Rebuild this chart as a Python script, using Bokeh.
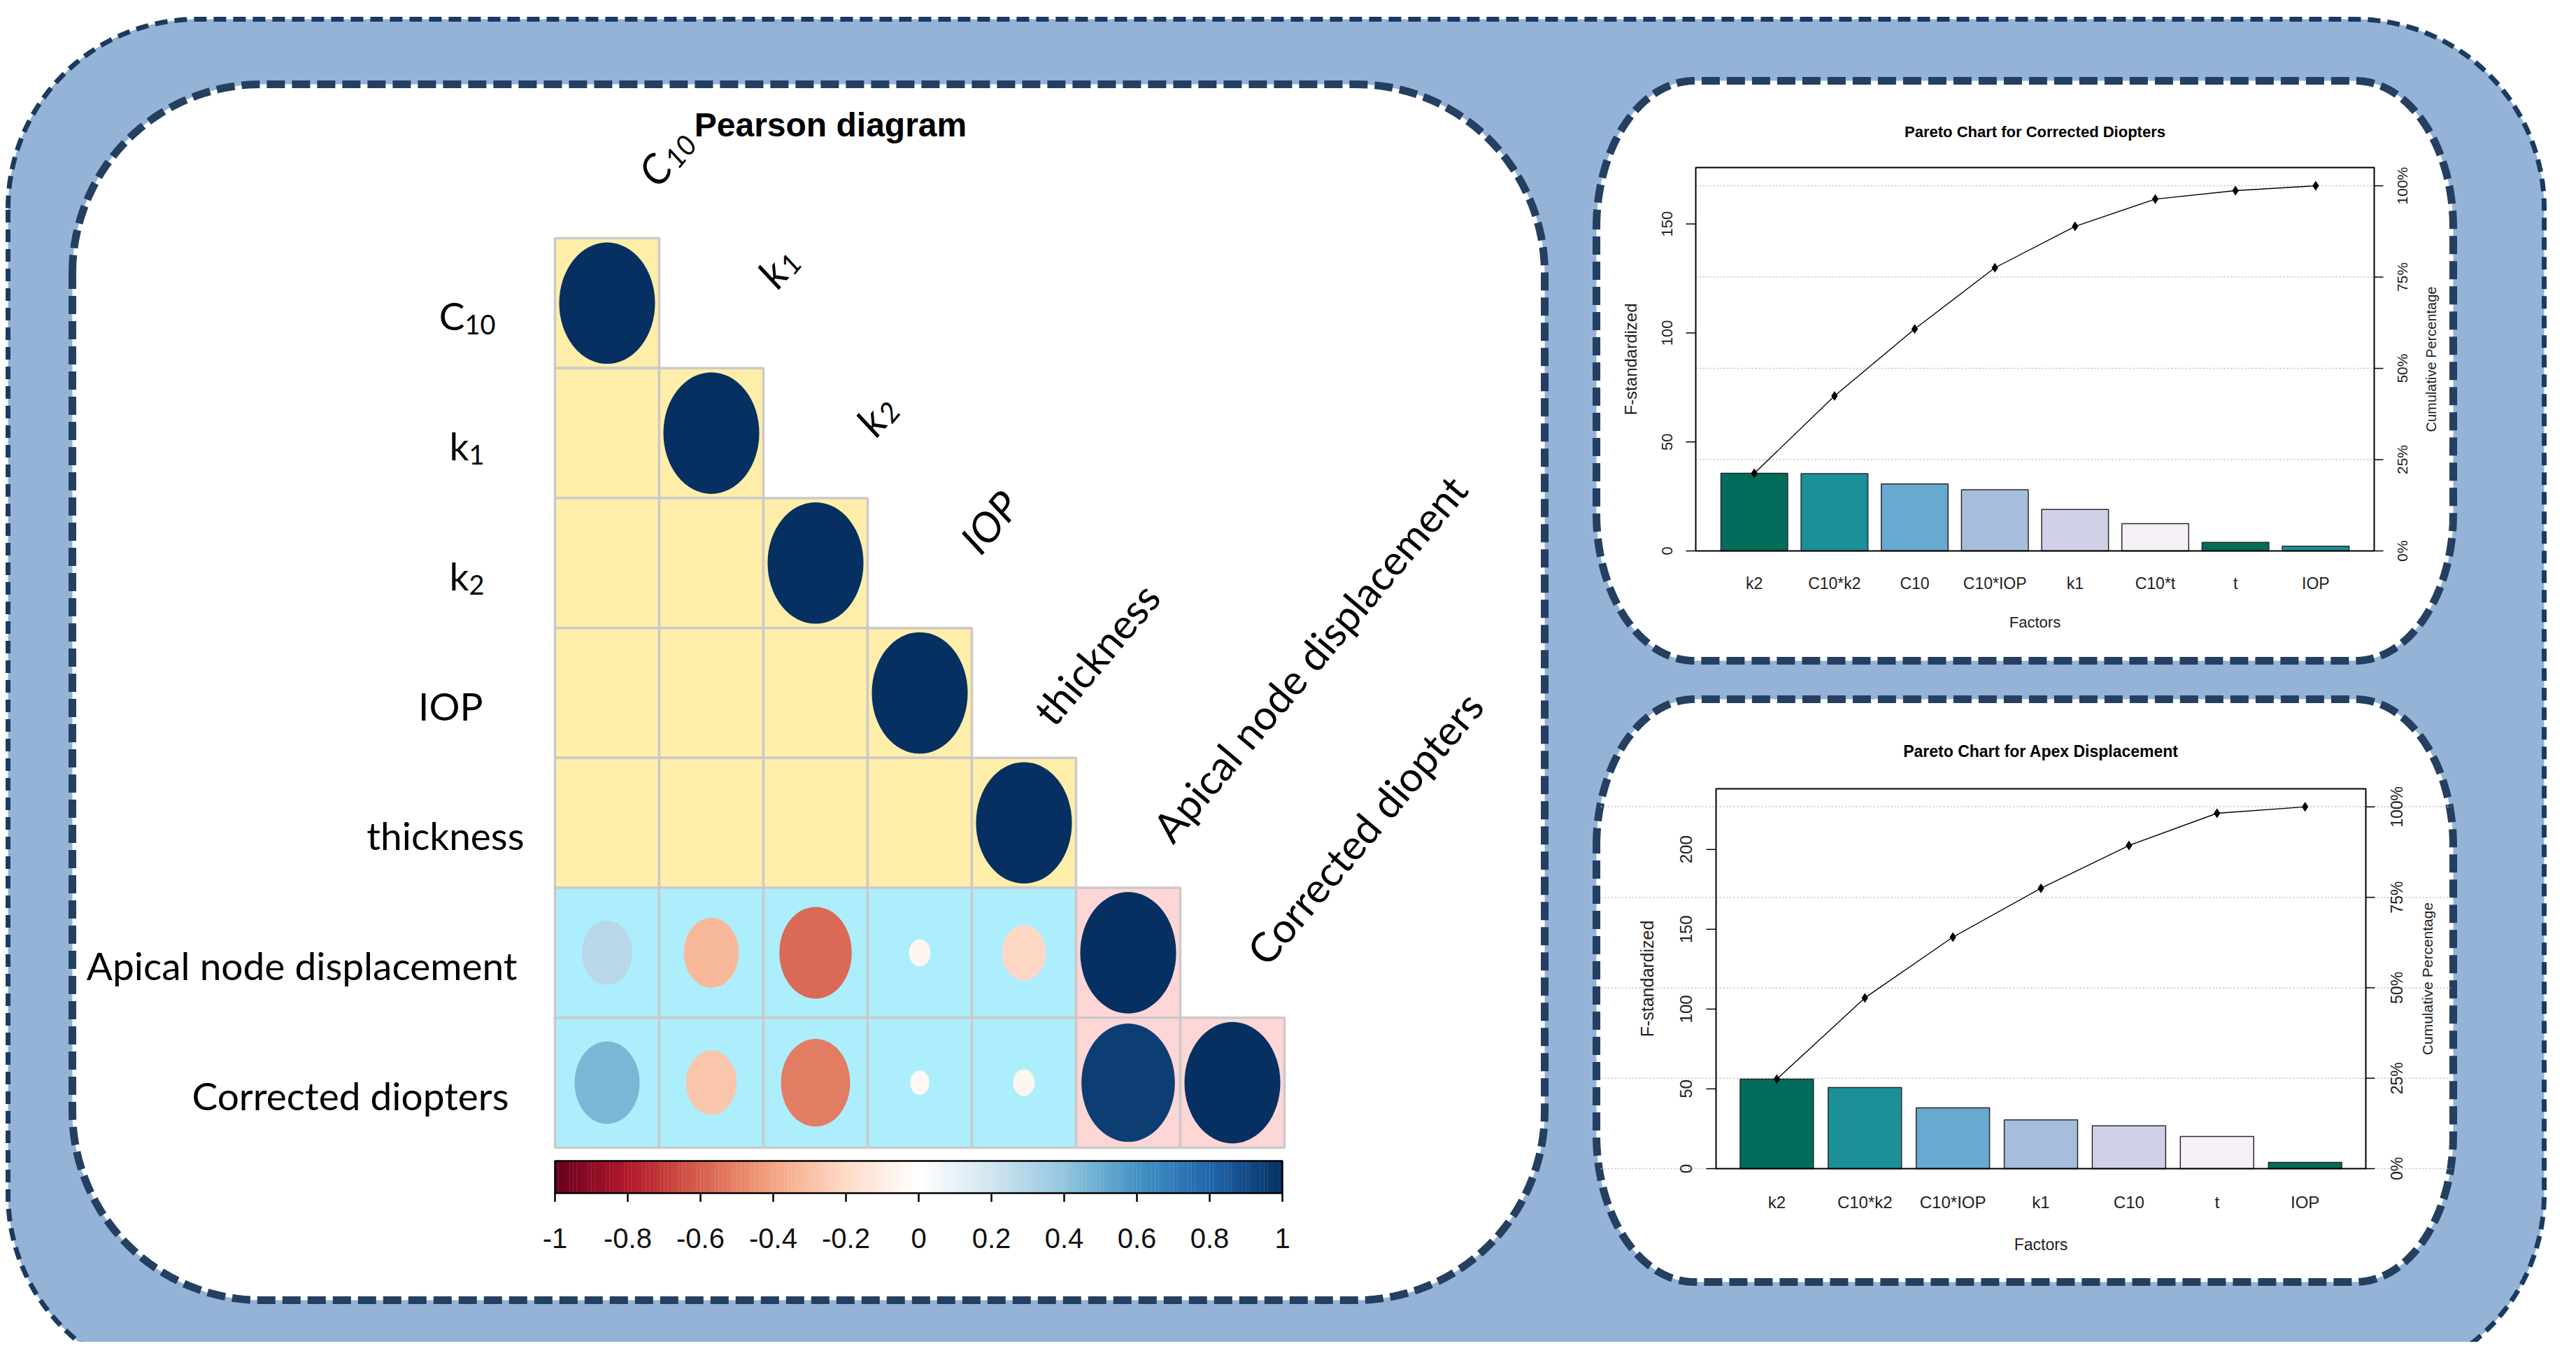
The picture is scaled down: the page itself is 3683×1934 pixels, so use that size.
import numpy as np
from bokeh.plotting import figure
from bokeh.models import Range1d
from bokeh.core.properties import value
from bokeh.embed import file_html
from bokeh.resources import INLINE

# ======================= DATA =======================
corr_vars = ["C10", "k1", "k2", "IOP", "thickness",
             "Apical node displacement", "Corrected diopters"]
corr_label_main = ["C", "k", "k", "IOP", "thickness",
                   "Apical node displacement", "Corrected diopters"]
corr_label_sub = ["10", "1", "2", "", "", "", ""]
# Pearson r of the two outputs against every variable (lower triangle)
r_apical = [0.28, -0.33, -0.57, -0.05, -0.21, 1.00]
r_diopters = [0.46, -0.28, -0.52, -0.04, -0.05, 0.95, 1.00]
cbar_ticks = [-1, -0.8, -0.6, -0.4, -0.2, 0, 0.2, 0.4, 0.6, 0.8, 1]
cbar_tick_labels = ["-1", "-0.8", "-0.6", "-0.4", "-0.2", "0",
                    "0.2", "0.4", "0.6", "0.8", "1"]

cd_factors = ["k2", "C10*k2", "C10", "C10*IOP", "k1", "C10*t", "t", "IOP"]
cd_fstd = [35.6, 35.5, 30.7, 28.1, 19.0, 12.5, 3.9, 2.2]
ad_factors = ["k2", "C10*k2", "C10*IOP", "k1", "C10", "t", "IOP"]
ad_fstd = [56.1, 50.9, 38.1, 30.6, 26.8, 20.2, 4.0]
cd_yticks = [0, 50, 100, 150]
ad_yticks = [0, 50, 100, 150, 200]
pct_ticks = [0, 25, 50, 75, 100]
pct_labels = ["0%", "25%", "50%", "75%", "100%"]

# ======================= STYLE =======================
PUBUGN = ["#016C59", "#1C9099", "#67A9CF", "#A6BDDB", "#D0D1E6", "#F6EFF7"]
RDBU = ["#67001F", "#B2182B", "#D6604D", "#F4A582", "#FDDBC7", "#FFFFFF",
        "#D1E5F0", "#92C5DE", "#4393C3", "#2166AC", "#053061"]
SANS = value("Liberation Sans")
LATO = value("Lato")


def rdbu(v):
    t = (v + 1) / 2 * 10
    k = min(int(t), 9)
    f = t - k
    a = [int(RDBU[k][i:i + 2], 16) for i in (1, 3, 5)]
    b = [int(RDBU[k + 1][i:i + 2], 16) for i in (1, 3, 5)]
    c = [round(a[m] + (b[m] - a[m]) * f) for m in range(3)]
    return "#%02X%02X%02X" % tuple(c)


def rrect(x0, y0, x1, y1, rx, ry, n=48):
    xs, ys = [], []
    corners = [((x0 + rx, y0 + ry), np.pi, 1.5 * np.pi),
               ((x1 - rx, y0 + ry), 1.5 * np.pi, 2 * np.pi),
               ((x1 - rx, y1 - ry), 0, 0.5 * np.pi),
               ((x0 + rx, y1 - ry), 0.5 * np.pi, np.pi)]
    for (cx, cy), a0, a1 in corners:
        t = np.linspace(a0, a1, n)
        xs += list(cx + rx * np.cos(t))
        ys += list(cy + ry * np.sin(t))
    xs.append(xs[0])
    ys.append(ys[0])
    return xs, ys


W, H = 3667, 1918
p = figure(width=W, height=H, x_range=Range1d(8, 8 + W), y_range=Range1d(8 + H, 8),
           output_backend="svg", toolbar_location=None, min_border=0,
           x_axis_type=None, y_axis_type=None)
p.grid.visible = False
p.outline_line_color = None
p.background_fill_color = "white"
p.border_fill_color = "white"

# ---------- decorative panels ----------
xs, ys = rrect(19, 35, 3645, 1985, 270, 270)
p.patch(xs, ys, fill_color="#95B3D7", line_color="#1B3A5F", line_width=7, line_dash="18 10")
for (x0, y0, x1, y1, rx, ry) in [(111, 128, 2216, 1866, 270, 270),
                                 (2290, 123, 3515, 952, 140, 210),
                                 (2290, 1007, 3515, 1840, 140, 210)]:
    xs, ys = rrect(x0, y0, x1, y1, rx, ry)
    p.patch(xs, ys, fill_color="white", line_color="#243F60", line_width=11, line_dash="26 10")

# ======================= PEARSON DIAGRAM =======================
n = len(corr_vars)
R = np.eye(n)
R[5, :6] = r_apical
R[6, :7] = r_diopters

cm = p.subplot(x_source=Range1d(0, n), y_source=Range1d(0, n),
               x_target=Range1d(801, 1844), y_target=Range1d(348, 1648))

cx, cy, cfill, ex, ey, ew, eh, ecol = [], [], [], [], [], [], [], []
for i in range(n):
    for j in range(i + 1):
        cx.append(j + 0.5)
        cy.append(i + 0.5)
        cfill.append("#FFEEAA" if i < 5 else ("#ADEEFC" if j < 5 else "#FFD6D6"))
        r = R[i, j]
        if abs(r) > 0:
            s = np.sqrt(abs(r))
            ex.append(j + 0.5)
            ey.append(i + 0.5)
            ew.append(0.92 * s)
            eh.append(0.935 * s)
            ecol.append(rdbu(r))
cm.rect(x=cx, y=cy, width=1, height=1, fill_color=cfill, line_color="#CACACA", line_width=3.5)
cm.ellipse(x=ex, y=ey, width=ew, height=eh, fill_color=ecol, line_color=None)

# row labels
row_gap = [85, 101, 101, 103, 44, 54, 66]
RS, SS = 55, 38
for i in range(n):
    main, sub = corr_label_main[i], corr_label_sub[i]
    sub_w = 0.58 * SS * len(sub)
    cm.text(x=[0], y=[i + 0.5], text=[main], x_offset=-(row_gap[i] + sub_w), y_offset=18,
            text_align="right", text_baseline="alphabetic", text_font=LATO,
            text_font_size="%dpx" % RS, text_color="black")
    if sub:
        cm.text(x=[0], y=[i + 0.5], text=[sub], x_offset=-row_gap[i], y_offset=31,
                text_align="right", text_baseline="alphabetic", text_font=LATO,
                text_font_size="%dpx" % SS, text_color="black")

# diagonal (top) labels, offsets from the top-centre of each diagonal cell
top_off = [(56, -84), (78, -125), (70, -99), (70, -116), (26, -56), (47, -75), (33, -85)]
th = np.radians(50)
TS = 59
adv = {"C": 0.66 * TS, "k": 0.50 * TS}
for j in range(n):
    main, sub = corr_label_main[j], corr_label_sub[j]
    style = "italic" if j < 4 else "normal"
    xo, yo = top_off[j]
    cm.text(x=[j + 0.5], y=[j], text=[main], x_offset=xo, y_offset=yo, angle=th,
            text_align="left", text_baseline="alphabetic", text_font=LATO,
            text_font_style=style, text_font_size="%dpx" % TS, text_color="black")
    if sub:
        a = adv[main]
        d = 0.2 * TS
        sxo = xo + a * np.cos(th) + d * np.sin(th)
        syo = yo - a * np.sin(th) + d * np.cos(th)
        cm.text(x=[j + 0.5], y=[j], text=[sub], x_offset=sxo, y_offset=syo, angle=th,
                text_align="left", text_baseline="alphabetic", text_font=LATO,
                text_font_style=style, text_font_size="%dpx" % int(0.68 * TS), text_color="black")

p.text(x=[1195], y=[186], text=["Pearson diagram"], text_align="center",
       text_baseline="alphabetic", text_font=SANS, text_font_style="bold",
       text_font_size="48px", text_color="black")

# colour bar
cb = p.subplot(x_source=Range1d(-1, 1), y_source=Range1d(0, 1),
               x_target=Range1d(801, 1841), y_target=Range1d(1713, 1667))
NB = 200
bc = [-1 + (k + 0.5) * 2 / NB for k in range(NB)]
cb.rect(x=bc, y=0.5, width=2 / NB * 1.05, height=1, fill_color=[rdbu(v) for v in bc], line_color=None)
cb.rect(x=[0], y=[0.5], width=2, height=1, fill_color=None, line_color="black", line_width=2.5)
cb.segment(x0=cbar_ticks, y0=0, x1=cbar_ticks, y1=-0.27, line_color="black", line_width=2.5)
cb.text(x=cbar_ticks, y=0, text=cbar_tick_labels, y_offset=64, text_align="center",
        text_baseline="middle", text_font=SANS, text_font_size="40px", text_color="#111111")


# ======================= PARETO CHARTS =======================
def pareto(factors, fvals, yticks, frame, title, sizes, offs, grid_span=None):
    fx0, fx1, fy_top, fy_zero = frame
    nb = len(factors)
    total = float(sum(fvals))
    cum = list(np.cumsum(fvals))
    y_hi = 1.05 * total
    L, Rr = 0.2, 1.2 * nb
    pad = 0.04 * (Rr - L)
    x_lo, x_hi = L - pad, Rr + pad
    centers = [0.7 + 1.2 * k for k in range(nb)]
    ux = (x_hi - x_lo) / (fx1 - fx0)
    sub = p.subplot(x_source=Range1d(x_lo, x_hi), y_source=Range1d(0, y_hi),
                    x_target=Range1d(fx0, fx1), y_target=Range1d(fy_zero, fy_top))
    pct_vals = [t / 100 * total for t in pct_ticks]
    if grid_span is None:
        sub.segment(x0=x_lo, y0=pct_vals[1:], x1=x_hi, y1=pct_vals[1:],
                    line_color="#BDBDBD", line_width=1.5, line_dash="2 3")
    else:
        g = p.subplot(x_source=Range1d(*grid_span), y_source=Range1d(0, y_hi),
                      x_target=Range1d(*grid_span), y_target=Range1d(fy_zero, fy_top))
        g.segment(x0=grid_span[0], y0=pct_vals, x1=grid_span[1], y1=pct_vals,
                  line_color="#BDBDBD", line_width=1.5, line_dash="2 3")
    colors = [PUBUGN[k % len(PUBUGN)] for k in range(nb)]
    sub.vbar(x=centers, top=fvals, bottom=0, width=1, fill_color=colors,
             line_color="#2B2B2B", line_width=1.5)
    sub.quad(left=[x_lo], right=[x_hi], bottom=[0], top=[y_hi], fill_color=None,
             line_color="black", line_width=2)
    sub.segment(x0=x_lo - 14 * ux, y0=yticks, x1=x_lo, y1=yticks, line_color="black", line_width=1.5)
    sub.segment(x0=x_hi, y0=pct_vals, x1=x_hi + 13 * ux, y1=pct_vals, line_color="black", line_width=1.5)
    sub.line(x=centers, y=cum, line_color="black", line_width=1.4)
    sub.scatter(x=centers, y=cum, marker="diamond", size=14, fill_color="black", line_color=None)
    s_tick, s_ltitle, s_pct, s_rtitle, s_x, s_fac, s_title = sizes
    o_tick, o_ltitle, o_pct, o_rtitle, o_x, o_fac, o_title = offs
    sub.text(x=x_lo, y=yticks, text=[str(v) for v in yticks], x_offset=o_tick, angle=np.pi / 2,
             text_align="center", text_baseline="middle", text_font=SANS,
             text_font_size="%dpx" % s_tick, text_color="#222222")
    sub.text(x=[x_lo], y=[y_hi / 2], text=["F-standardized"], x_offset=o_ltitle, angle=np.pi / 2,
             text_align="center", text_baseline="middle", text_font=SANS,
             text_font_size="%dpx" % s_ltitle, text_color="#222222")
    sub.text(x=x_hi, y=pct_vals, text=pct_labels, x_offset=o_pct, angle=np.pi / 2,
             text_align="center", text_baseline="middle", text_font=SANS,
             text_font_size="%dpx" % s_pct, text_color="#222222")
    sub.text(x=[x_hi], y=[y_hi / 2], text=["Cumulative Percentage"], x_offset=o_rtitle, angle=np.pi / 2,
             text_align="center", text_baseline="middle", text_font=SANS,
             text_font_size="%dpx" % s_rtitle, text_color="#222222")
    sub.text(x=centers, y=0, text=factors, y_offset=o_x, text_align="center",
             text_baseline="middle", text_font=SANS, text_font_size="%dpx" % s_x, text_color="#222222")
    mid = (x_lo + x_hi) / 2
    sub.text(x=[mid], y=[0], text=["Factors"], y_offset=o_fac, text_align="center",
             text_baseline="middle", text_font=SANS, text_font_size="%dpx" % s_fac, text_color="#222222")
    sub.text(x=[mid], y=[y_hi], text=[title], y_offset=o_title, text_align="center",
             text_baseline="middle", text_font=SANS, text_font_style="bold",
             text_font_size="%dpx" % s_title, text_color="black")


pareto(cd_factors, cd_fstd, cd_yticks, (2432, 3402, 247, 795),
       "Pareto Chart for Corrected Diopters",
       (22, 24, 21, 20, 23, 22, 22), (-41, -93, 40, 81, 46, 102, -51))
pareto(ad_factors, ad_fstd, ad_yticks, (2461, 3390, 1135, 1678),
       "Pareto Chart for Apex Displacement",
       (24, 25, 23, 21, 24, 23, 23), (-43, -99, 44, 88, 48, 108, -54),
       grid_span=(2296, 3512))

open("out.html", "w").write(file_html(p, INLINE))
